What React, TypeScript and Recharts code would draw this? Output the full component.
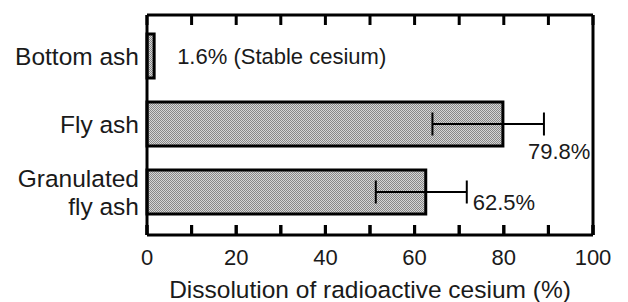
import { BarChart, Bar, XAxis, YAxis, ErrorBar, LabelList, CartesianGrid } from 'recharts';

const categories = ['Bottom ash', 'Fly ash', 'Granulated\nfly ash'];
const dissolution = [1.6, 79.8, 62.5];
const errLow: (number | null)[] = [null, 15.8, 11.2];
const errHigh: (number | null)[] = [null, 9.2, 9.2];
const notes = [' (Stable cesium)', '', ''];
const xTicks = [0, 10, 20, 30, 40, 50, 60, 70, 80, 90, 100];

const data = categories.map((name, i) => ({
    name,
    value: dissolution[i],
    err: errLow[i] == null ? undefined : [errLow[i], errHigh[i]],
}));

const FONT = '"Liberation Sans", Arial, sans-serif';
const INK = '#1a1a1a';
const MARGIN = { top: 14, right: 34, left: 0, bottom: 0 };
const TOP_AXIS_H = 1;

// where each value label sits: anchored on bar end or whisker end
const labelPlace = [
    { fromErr: false, dx: 23, dy: 8 },
    { fromErr: true, dx: -16, dy: 35 },
    { fromErr: true, dx: 6, dy: 18 },
];

const CategoryTick = (props: any) => {
    const { x, y, payload } = props;
    const lines = String(payload.value).split('\n');
    const start = -((lines.length - 1) * 28) / 2;
    return (
        <text x={x} y={y} textAnchor="end" fill={INK} fontSize={24.5} fontFamily={FONT}>
            {lines.map((l, i) => (
                <tspan key={i} x={x} y={y + start + i * 28 + 8.5}>{l}</tspan>
            ))}
        </text>
    );
};

const ValueTick = (props: any) => {
    const { x, y, payload } = props;
    if (payload.value % 20 !== 0) return null;
    return (
        <text x={x} y={y + 40} textAnchor="middle" fill={INK} fontSize={22} fontFamily={FONT}>
            {payload.value}
        </text>
    );
};

const ValueLabel = (props: any) => {
    const { x, y, width, height, index } = props;
    const v = dissolution[index];
    const p = labelPlace[index];
    const perUnit = width / v;
    const endX = p.fromErr ? x + (v + (errHigh[index] ?? 0)) * perUnit : x + width;
    return (
        <text x={endX + p.dx} y={y + height / 2 + p.dy} fill={INK} fontSize={22} fontFamily={FONT}>
            {`${v}%${notes[index]}`}
        </text>
    );
};

export default function App() {
    return (
        <div style={{ position: 'absolute', left: 0, top: 0, background: '#fff' }}>
            <BarChart
                width={628}
                height={302}
                data={data}
                layout="vertical"
                margin={MARGIN}
                barSize={44}
            >
                <defs>
                    <pattern id="dots" width="2" height="2" patternUnits="userSpaceOnUse">
                        <rect width="2" height="2" fill="#d6d6d6" />
                        <rect width="1" height="1" fill="#888" />
                        <rect x="1" y="1" width="1" height="1" fill="#888" />
                    </pattern>
                </defs>
                {/* vertical grid lines dashed so only 10px stubs remain at top and bottom = inward ticks */}
                <CartesianGrid
                    horizontal={false}
                    stroke="#000"
                    strokeWidth={3}
                    strokeDasharray="10 200"
                />
                <XAxis
                    type="number"
                    domain={[0, 100]}
                    ticks={xTicks}
                    height={67}
                    tickSize={-10}
                    tickMargin={0}
                    axisLine={{ stroke: '#000', strokeWidth: 3 }}
                    tickLine={{ stroke: '#000', strokeWidth: 3 }}
                    tick={<ValueTick />}
                    label={{
                        value: 'Dissolution of radioactive cesium (%)',
                        position: 'insideBottom',
                        offset: 4,
                        fill: INK,
                        fontSize: 24.5,
                        fontFamily: FONT,
                    }}
                />
                <XAxis
                    xAxisId="top"
                    orientation="top"
                    type="number"
                    domain={[0, 100]}
                    height={TOP_AXIS_H}
                    axisLine={{ stroke: '#000', strokeWidth: 3 }}
                    tickLine={false}
                    tick={false}
                />
                <YAxis
                    type="category"
                    dataKey="name"
                    width={147}
                    padding={{ top: 7, bottom: 9 }}
                    axisLine={{ stroke: '#000', strokeWidth: 3 }}
                    tickLine={false}
                    tick={<CategoryTick />}
                />
                <YAxis
                    yAxisId="r"
                    orientation="right"
                    type="category"
                    dataKey="name"
                    width={1}
                    padding={{ top: 7, bottom: 9 }}
                    axisLine={{ stroke: '#000', strokeWidth: 3 }}
                    tickLine={false}
                    tick={false}
                />
                <Bar dataKey="value" fill="url(#dots)" stroke="#000" strokeWidth={3} isAnimationActive={false}>
                    <ErrorBar dataKey="err" direction="x" width={11.5} stroke="#000" strokeWidth={2} />
                    <LabelList dataKey="value" content={<ValueLabel />} />
                </Bar>
            </BarChart>
        </div>
    );
}
